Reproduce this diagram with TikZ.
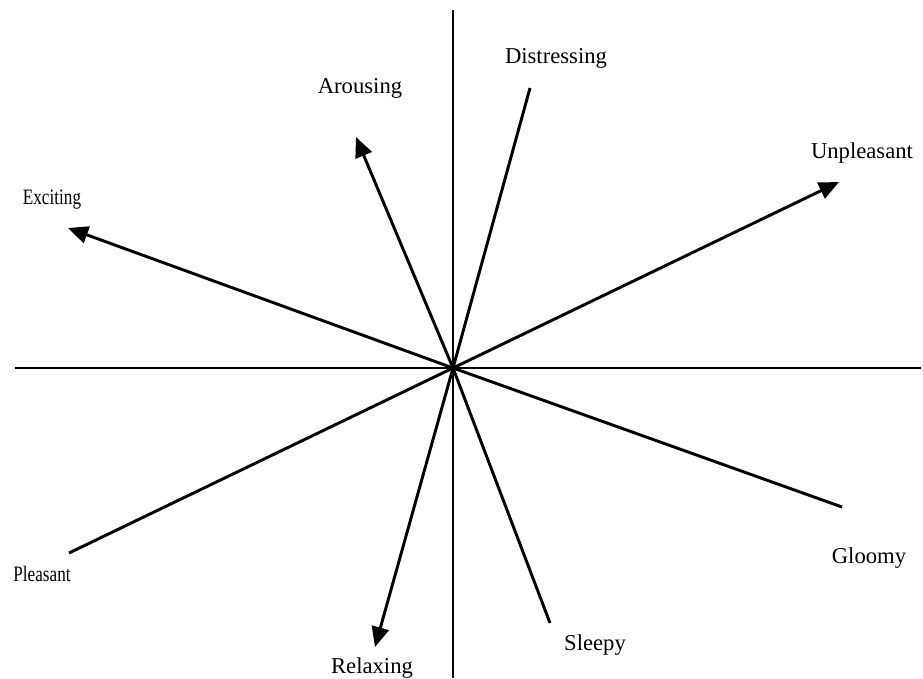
\documentclass[tikz,border=0pt]{standalone}
\usepackage{fontspec}
\setmainfont{Liberation Serif}
\usetikzlibrary{arrows.meta}
\begin{document}
\begin{tikzpicture}[x=0.75pt,y=-0.75pt,
  ray/.style={line width=2.2pt},
  arr/.style={ray,-{Triangle[length=15pt,width=13pt]}},
  axis/.style={line width=2pt},
  lbl/.style={font=\fontsize{17}{20}\selectfont,inner sep=0pt},
  slbl/.style={font=\fontsize{16.5}{20}\selectfont,inner sep=0pt}]
\useasboundingbox (0,0) rectangle (923,678);
\coordinate (c) at (453,368);
\coordinate (xl) at (15,368);
\coordinate (xr) at (921,368);
\coordinate (yt) at (453,10);
\coordinate (yb) at (453,678);
\draw[axis] (xl) -- (xr);
\draw[axis] (yt) -- (yb);
\coordinate (exc) at (68,228);
\coordinate (aro) at (356,137);
\coordinate (dis) at (530,88);
\coordinate (unp) at (839,182);
\coordinate (ple) at (69,553);
\coordinate (rel) at (375,647);
\coordinate (sle) at (550,623);
\coordinate (glo) at (842,507);
\draw[arr] (c) -- (exc);
\draw[arr] (c) -- (aro);
\draw[ray] (c) -- (dis);
\draw[arr] (c) -- (unp);
\draw[ray] (c) -- (ple);
\draw[arr] (c) -- (rel);
\draw[ray] (c) -- (sle);
\draw[ray] (c) -- (glo);
\node[slbl] (lexc) at (52,200) {\scalebox{0.78}[1]{Exciting}};
\node[lbl] (laro) at (360,88) {Arousing};
\node[lbl] (ldis) at (556,58) {Distressing};
\node[lbl] (lunp) at (862,153) {Unpleasant};
\node[slbl] (lple) at (42,574) {\scalebox{0.78}[1]{Pleasant}};
\node[lbl] (lrel) at (372,668) {Relaxing};
\node[lbl] (lsle) at (595,645) {Sleepy};
\node[lbl] (lglo) at (869,558) {Gloomy};
\end{tikzpicture}
\end{document}
